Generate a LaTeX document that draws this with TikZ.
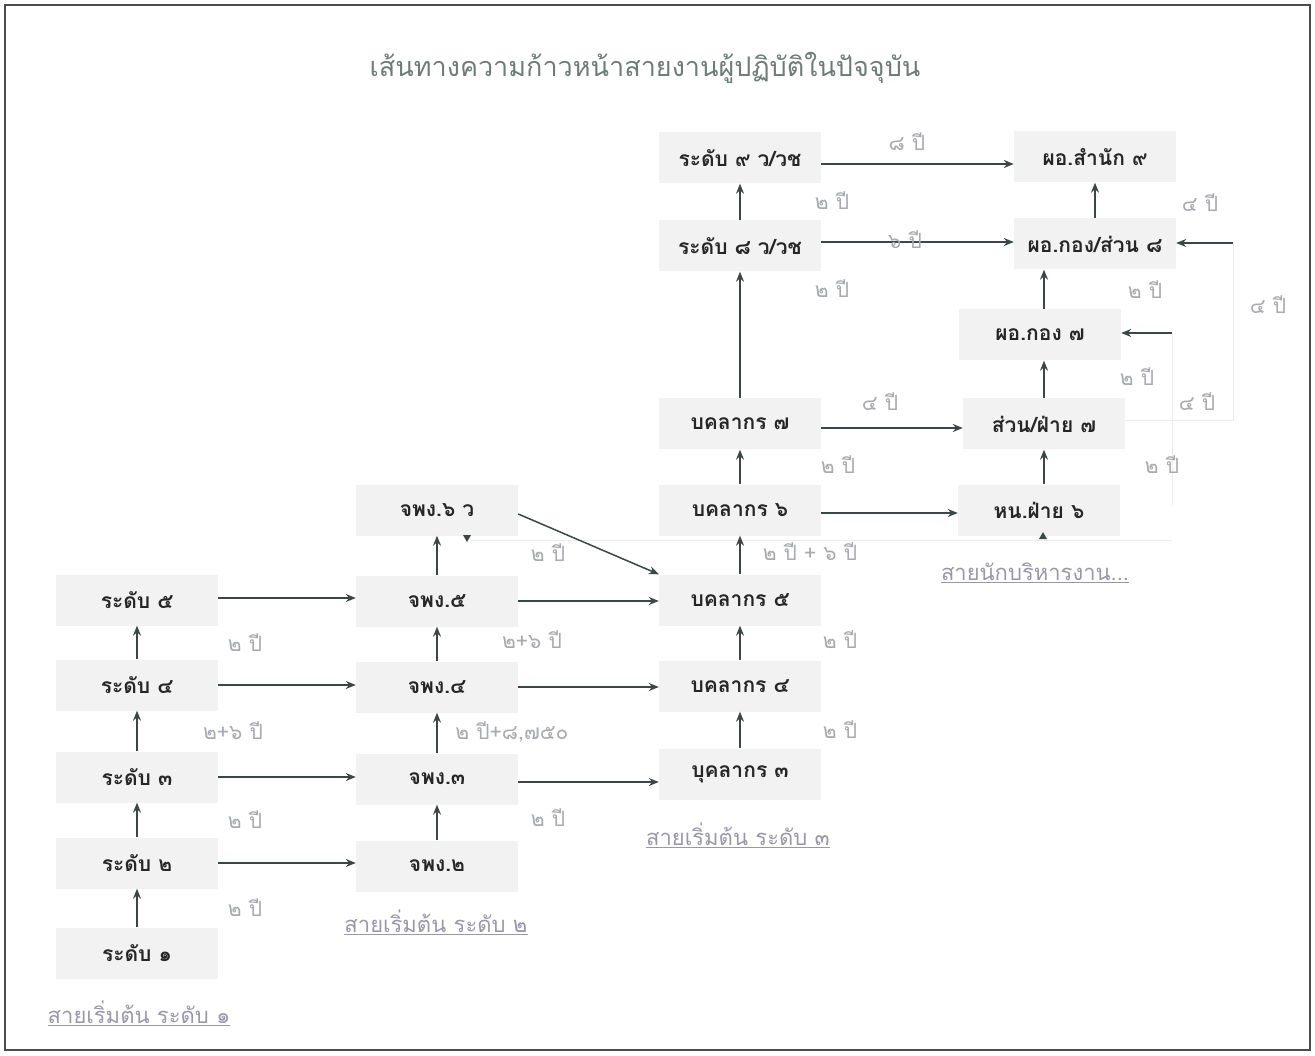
\documentclass[tikz,border=0pt]{standalone}
\usepackage{fontspec}
\newfontfamily\thai[Script=Thai]{Loma}
\usetikzlibrary{arrows.meta}
\definecolor{boxgray}{HTML}{F2F2F2}
\definecolor{arrc}{HTML}{3C4646}
\definecolor{labc}{HTML}{A8AAB0}
\definecolor{titc}{HTML}{6E7C78}
\definecolor{linkc}{HTML}{9A98A8}
\definecolor{faint}{HTML}{ECECEC}
\tikzset{
  pbox/.style={fill=boxgray, minimum width=162pt, minimum height=51pt, inner sep=0pt,
    font=\thai\bfseries\fontsize{21}{24}\selectfont, text=black!85},
  arr/.style={-{Stealth[length=10pt,width=8pt]}, line width=1.5pt, draw=arrc},
  lab/.style={font=\thai\fontsize{21}{24}\selectfont, text=labc, inner sep=0pt},
  lnk/.style={font=\thai\fontsize{22}{24}\selectfont, text=linkc, inner sep=0pt},
  faintline/.style={draw=faint, line width=0.8pt}
}
\begin{document}
\begin{tikzpicture}[x=1pt,y=-1pt]
\useasboundingbox (0,0) rectangle (1315,1056);
\draw[line width=1.3pt, draw=black!70] (5,5) rectangle (1310,1050);
\node[font=\thai\fontsize{27}{30}\selectfont, text=titc] (title) at (645,68) {เส้นทางความก้าวหน้าสายงานผู้ปฏิบัติในปัจจุบัน};

% faint table lines
\coordinate (fa1) at (1233,243);
\coordinate (fa2) at (1233,420);
\coordinate (fa3) at (1122,420);
\coordinate (fb1) at (1172,333);
\coordinate (fb2) at (1172,505);
\coordinate (fc1) at (470,540);
\coordinate (fc2) at (1172,540);
\draw[faintline] (fa1) -- (fa2) -- (fa3);
\draw[faintline] (fb1) -- (fb2);
\draw[faintline] (fc1) -- (fc2);

% column 1
\node[pbox] (r5) at (137,600) {ระดับ ๕};
\node[pbox] (r4) at (137,685) {ระดับ ๔};
\node[pbox] (r3) at (137,777) {ระดับ ๓};
\node[pbox] (r2) at (137,863) {ระดับ ๒};
\node[pbox] (r1) at (137,953) {ระดับ ๑};
% column 2
\node[pbox] (j6) at (437,510) {จพง.๖ ว};
\node[pbox] (j5) at (437,601) {จพง.๕};
\node[pbox] (j4) at (437,687) {จพง.๔};
\node[pbox] (j3) at (437,779) {จพง.๓};
\node[pbox] (j2) at (437,866) {จพง.๒};
% column 3
\node[pbox] (v9) at (740,158) {ระดับ ๙ ว/วช};
\node[pbox] (v8) at (740,246) {ระดับ ๘ ว/วช};
\node[pbox] (b7) at (740,424) {บคลากร ๗};
\node[pbox] (b6) at (740,510) {บคลากร ๖};
\node[pbox] (b5) at (740,600) {บคลากร ๕};
\node[pbox] (b4) at (740,686) {บคลากร ๔};
\node[pbox] (b3) at (740,774) {บุคลากร ๓};
% column 4
\node[pbox] (m9) at (1095,157) {ผอ.สำนัก ๙};
\node[pbox] (m8) at (1095,244) {ผอ.กอง/ส่วน ๘};
\node[pbox] (m7) at (1040,335) {ผอ.กอง ๗};
\node[pbox] (m7b) at (1044,424) {ส่วน/ฝ่าย ๗};
\node[pbox] (m6) at (1039,510) {หน.ฝ่าย ๖};

% small markers
\fill[arrc] (463,535) -- (471,535) -- (467,542) -- cycle;
\fill[arrc] (1039,539) -- (1047,539) -- (1043,532) -- cycle;

% vertical arrows col1
\draw[arr] (r1.north) -- (r2.south);
\draw[arr] (r2.north) -- (r3.south);
\draw[arr] (r3.north) -- (r4.south);
\draw[arr] (r4.north) -- (r5.south);
% col1 -> col2
\draw[arr] ([yshift=2pt]r5.east) -- ([yshift=2pt]r5.east -| j5.west);
\draw[arr] (r4.east) -- (r4.east -| j4.west);
\draw[arr] (r3.east) -- (r3.east -| j3.west);
\draw[arr] (r2.east) -- (r2.east -| j2.west);
% col2 vertical
\draw[arr] (j2.north) -- (j3.south);
\draw[arr] (j3.north) -- (j4.south);
\draw[arr] (j4.north) -- (j5.south);
\draw[arr] (j5.north) -- (j6.south);
% col2 -> col3
\draw[arr] (j5.east) -- (j5.east -| b5.west);
\draw[arr] (j4.east) -- (j4.east -| b4.west);
\draw[arr] ([yshift=-3pt]j3.east) -- ([yshift=-3pt]j3.east -| b3.west);
\draw[arr] ([yshift=-4pt]j6.east) -- (b5.north west);
% col3 vertical
\draw[arr] (b3.north) -- (b4.south);
\draw[arr] (b4.north) -- (b5.south);
\draw[arr] (b5.north) -- (b6.south);
\draw[arr] (b6.north) -- (b7.south);
\draw[arr] (b7.north) -- (v8.south);
\draw[arr] (v8.north) -- (v9.south);
% col3 -> col4
\draw[arr] ([yshift=-6pt]v9.east) -- ([yshift=-6pt]v9.east -| m9.west);
\draw[arr] ([yshift=4pt]v8.east) -- ([yshift=4pt]v8.east -| m8.west);
\draw[arr] ([yshift=-4pt]b7.east) -- ([yshift=-4pt]b7.east -| m7b.west);
\draw[arr] ([yshift=-3pt]b6.east) -- ([yshift=-3pt]b6.east -| m6.west);
% col4 vertical
\draw[arr] (m6.north -| m7b) -- (m7b.south);
\draw[arr] (m7b.north) -- (m7b.north |- m7.south);
\draw[arr] (m7.north -| m7b) -- (m7b |- m8.south);
\draw[arr] (m8.north) -- (m9.south);
% feedback arrows
\draw[arr] (fa1) -- (fa1 -| m8.east);
\draw[arr] (fb1) -- (fb1 -| m7.east);

% labels
\node[lab] (t1) at (907,142) {๘ ปี};
\node[lab] (t2) at (832,201) {๒ ปี};
\node[lab] (t3) at (1200,203) {๔ ปี};
\node[lab] (t4) at (905,240) {๖ ปี};
\node[lab] (t5) at (832,289) {๒ ปี};
\node[lab] (t6) at (1145,290) {๒ ปี};
\node[lab] (t7) at (1268,305) {๔ ปี};
\node[lab] (t8) at (1137,377) {๒ ปี};
\node[lab] (t9) at (880,402) {๔ ปี};
\node[lab] (t10) at (1197,402) {๔ ปี};
\node[lab] (t11) at (838,465) {๒ ปี};
\node[lab] (t12) at (1162,465) {๒ ปี};
\node[lab] (t13) at (810,552) {๒ ปี + ๖ ปี};
\node[lab] (t14) at (548,553) {๒ ปี};
\node[lab] (t15) at (532,640) {๒+๖ ปี};
\node[lab] (t16) at (840,640) {๒ ปี};
\node[lab] (t17) at (245,643) {๒ ปี};
\node[lab] (t18) at (233,731) {๒+๖ ปี};
\node[lab] (t19) at (512,732) {๒ ปี+๘,๗๕๐};
\node[lab] (t20) at (840,730) {๒ ปี};
\node[lab] (t21) at (245,820) {๒ ปี};
\node[lab] (t22) at (548,818) {๒ ปี};
\node[lab] (t23) at (245,908) {๒ ปี};

% link labels
\node[lnk] (k1) at (139,1013) {\underline{สายเริ่มต้น ระดับ ๑}};
\node[lnk] (k2) at (436,922) {\underline{สายเริ่มต้น ระดับ ๒}};
\node[lnk] (k3) at (738,835) {\underline{สายเริ่มต้น ระดับ ๓}};
\node[lnk] (k4) at (1035,573) {\underline{สายนักบริหารงาน...}};
\end{tikzpicture}
\end{document}
